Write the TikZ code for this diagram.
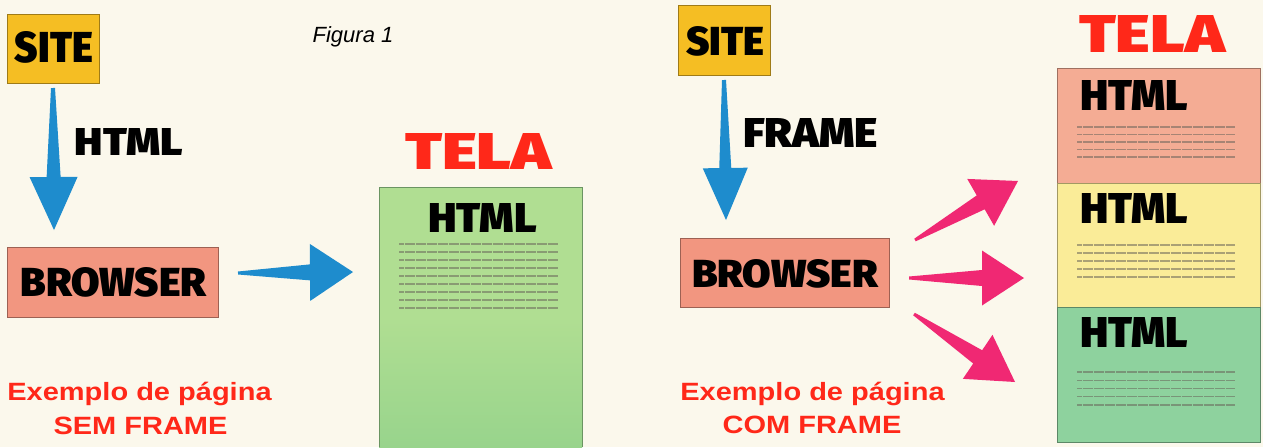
\documentclass[tikz,border=0pt]{standalone}
\usepackage{fontspec}
\setmainfont{Liberation Sans}
\IfFontExistsTF{Fira Sans Black}{\newfontfamily\heavyfnt{Fira Sans Black}}{%
 \IfFontExistsTF{FiraSans-Black}{\newfontfamily\heavyfnt{FiraSans-Black}}{%
  \IfFontExistsTF{Lato Black}{\newfontfamily\heavyfnt{Lato Black}}{%
   \IfFontExistsTF{Fira Sans ExtraBold}{\newfontfamily\heavyfnt{Fira Sans ExtraBold}}{%
    \newfontfamily\heavyfnt{DejaVu Sans Bold}}}}}
\usetikzlibrary{calc}
\definecolor{bg}{RGB}{251,248,236}
\definecolor{sitegold}{RGB}{245,190,35}
\definecolor{brsalmon}{RGB}{242,150,128}
\definecolor{arrblue}{RGB}{30,140,205}
\definecolor{arrpink}{RGB}{240,40,115}
\definecolor{telared}{RGB}{255,40,25}
\definecolor{grtop}{RGB}{176,222,146}
\definecolor{grbot}{RGB}{152,212,140}
\definecolor{frsalmon}{RGB}{244,172,148}
\definecolor{fryellow}{RGB}{250,236,152}
\definecolor{frgreen}{RGB}{142,210,158}
\definecolor{txtgray}{RGB}{105,100,90}
\tikzset{
  boxstyle/.style={inner sep=0pt, draw=#1!65!black, line width=0.6pt, fill=#1},
  heavylabel/.style={font=\heavyfnt\fontsize{40}{40}\selectfont, text=black, inner sep=0pt},
  redcaption/.style={font=\bfseries\fontsize{25}{25}\selectfont, text=telared, inner sep=0pt, anchor=base},
  txtline/.style={draw=txtgray, draw opacity=0.55, line width=1.2pt, dash pattern=on 5pt off 0.5pt},
}
\newcommand\fatarrow[7]{%
  \coordinate (tmpB) at ($(#2)!#3pt!(#1)$);
  \fill[#7] ($(#1)!#6pt!90:(#2)$) -- ($(tmpB)!#5pt!90:(#2)$) -- ($(tmpB)!#4pt!90:(#2)$)
    -- (#2) -- ($(tmpB)!#4pt!-90:(#2)$) -- ($(tmpB)!#5pt!-90:(#2)$) -- ($(#1)!#6pt!-90:(#2)$) -- cycle;
}
\newcommand\txtlines[5]{%
  \foreach \i in {1,...,#5} {
    \pgfmathsetmacro\yy{#3+(\i-1)*#4}
    \draw[txtline] (#1,\yy) -- (#2,\yy);
  }
}
\newcommand\fitword[3]{\resizebox{#1pt}{#2pt}{#3}}
\begin{document}
\begin{tikzpicture}[x=1pt,y=-1pt]
\useasboundingbox (0,0) rectangle (1263,447);
\fill[bg] (0,0) rectangle (1263,447);

% ---------- left panel ----------
\node[boxstyle=sitegold, minimum width=92pt, minimum height=69pt] (siteL) at (53,48.5) {};
\node[heavylabel] (siteLt) at (54,47.5) {\fitword{78}{31}{SITE}};
\node[font=\itshape\fontsize{22}{22}\selectfont, inner sep=0pt, anchor=base] (fig) at (353,42) {Figura 1};

\coordinate (aL1t) at (53,88);
\coordinate (aL1h) at (54,230);
\fatarrow{aL1t}{aL1h}{53}{24}{7}{2}{arrblue}
\node[heavylabel] (htmlL) at (129,141.5) {\fitword{108}{27}{HTML}};

\node[boxstyle=brsalmon, minimum width=211pt, minimum height=70pt] (brL) at (112.5,282) {};
\node[heavylabel] (brLt) at (113.5,282.5) {\fitword{186}{29}{BROWSER}};

\coordinate (aL2t) at (238,273);
\coordinate (aL2h) at (353,272);
\fatarrow{aL2t}{aL2h}{43}{28.5}{8}{1.5}{arrblue}

\node[redcaption] (exL1) at (139.5,400) {\scalebox{1.16}[1]{Exemplo de página}};
\node[redcaption] (exL2) at (140.5,434) {\scalebox{1.16}[1]{SEM FRAME}};

\node[heavylabel, text=telared] (telaL) at (478.5,151) {\fitword{147}{36}{TELA}};
\node[inner sep=0pt, minimum width=203pt, minimum height=260pt, top color=grtop, bottom color=grbot, middle color=grtop] (scrL) at (480.5,317) {};
\draw[grbot!70!black, line width=0.6pt] (scrL.south west) -- (scrL.north west) -- (scrL.north east) -- (scrL.south east);
\node[heavylabel] (htmlS) at (482.5,217.5) {\fitword{109}{29}{HTML}};
\txtlines{399}{558}{244}{8}{9}

% ---------- right panel ----------
\node[boxstyle=sitegold, minimum width=92pt, minimum height=70pt] (siteR) at (724,40) {};
\node[heavylabel] (siteRt) at (725,41) {\fitword{78}{29}{SITE}};

\coordinate (aR1t) at (724,80);
\coordinate (aR1h) at (726,220);
\fatarrow{aR1t}{aR1h}{52}{22.5}{6}{2}{arrblue}
\node[heavylabel] (frameR) at (810.5,132.5) {\fitword{135}{29}{FRAME}};

\node[boxstyle=brsalmon, minimum width=209pt, minimum height=69pt] (brR) at (784.5,272.5) {};
\node[heavylabel] (brRt) at (785,273.5) {\fitword{186}{28}{BROWSER}};

\coordinate (p1t) at (915,240);
\coordinate (p1h) at (1018,181);
\fatarrow{p1t}{p1h}{43}{27}{8}{1.5}{arrpink}
\coordinate (p2t) at (909,278);
\coordinate (p2h) at (1024,278);
\fatarrow{p2t}{p2h}{42}{27.5}{8}{1.5}{arrpink}
\coordinate (p3t) at (914,314);
\coordinate (p3h) at (1015,382);
\fatarrow{p3t}{p3h}{45}{26.5}{8}{1.5}{arrpink}

\node[redcaption] (exR1) at (812.5,400) {\scalebox{1.16}[1]{Exemplo de página}};
\node[redcaption] (exR2) at (812,433) {\scalebox{1.16}[1]{COM FRAME}};

\node[heavylabel, text=telared] (telaR) at (1152,33.5) {\fitword{146}{37}{TELA}};
\node[boxstyle=frsalmon, minimum width=203pt, minimum height=115pt] (fr1) at (1158.5,125.5) {};
\node[boxstyle=fryellow, minimum width=203pt, minimum height=124pt] (fr2) at (1158.5,245) {};
\node[boxstyle=frgreen, minimum width=203pt, minimum height=135pt] (fr3) at (1158.5,374.5) {};
\node[heavylabel] (h1) at (1134,95) {\fitword{108}{30}{HTML}};
\node[heavylabel] (h2) at (1134,208) {\fitword{108}{30}{HTML}};
\node[heavylabel] (h3) at (1134,332) {\fitword{108}{30}{HTML}};
\txtlines{1077}{1235}{127}{7.5}{5}
\txtlines{1077}{1235}{245}{8}{5}
\txtlines{1077}{1235}{372}{8.25}{5}
\end{tikzpicture}
\end{document}
